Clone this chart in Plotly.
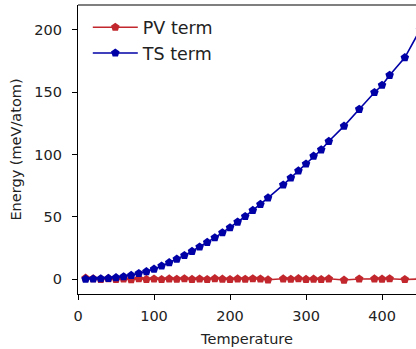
import plotly.graph_objects as go

temperature = [10, 20, 30, 40, 50, 60, 70, 80, 90, 100, 110, 120, 130, 140, 150, 160, 170,
               180, 190, 200, 210, 220, 230, 240, 250, 270, 280, 290, 300, 310, 320, 330,
               350, 370, 390, 400, 410, 430, 450]
ts_term = [0.0, 0.1, 0.3, 0.6, 1.2, 1.9, 3.0, 4.5, 6.0, 8.0, 10.5, 13.2, 16.0, 19.0, 22.3,
           25.8, 29.5, 33.2, 37.2, 41.2, 45.8, 50.3, 55.2, 60.0, 65.2, 75.6, 81.2, 86.9,
           92.4, 98.7, 103.8, 110.6, 122.8, 136.3, 149.8, 155.6, 163.6, 177.8, 200.0]
pv_term = [0.8, 0.3, -0.2, 0.4, -0.3, 0.2, -0.4, 0.3, -0.2, 0.1, -0.3, 0.2, -0.1, 0.3, -0.2,
           0.1, -0.3, 0.4, 0.0, -0.3, 0.2, -0.1, 0.3, 0.1, -0.6, 0.2, -0.1, 0.4, -0.2, 0.0,
           -0.3, 0.2, -0.8, 0.1, 0.2, 0.0, 0.3, -0.3, 0.0]

red = "#c1272d"
blue = "#0000a7"

fig = go.Figure()
fig.add_trace(go.Scatter(x=temperature, y=pv_term, mode="lines+markers", name="PV term",
                         line=dict(color=red, width=1.6),
                         marker=dict(symbol="pentagon", size=9, color=red)))
fig.add_trace(go.Scatter(x=temperature, y=ts_term, mode="lines+markers", name="TS term",
                         line=dict(color=blue, width=1.6),
                         marker=dict(symbol="pentagon", size=9, color=blue)))

font = "DejaVu Sans"
fig.update_layout(
    width=416, height=349,
    margin=dict(l=78, r=0, t=5, b=55),
    paper_bgcolor="white", plot_bgcolor="white",
    font=dict(family=font, size=14.5, color="#222"),
    showlegend=True,
    legend=dict(x=0.029, y=0.985, xanchor="left", yanchor="top",
                font=dict(family=font, size=17.5, color="#222"),
                itemwidth=45,
                bgcolor="rgba(0,0,0,0)"),
    xaxis=dict(range=[0, 444.7], tickvals=[0, 100, 200, 300, 400],
               showgrid=False, zeroline=False, showline=True, linecolor="black", linewidth=1.1,
               ticks="outside", ticklen=5, tickwidth=1.1, tickcolor="black",
               ticklabelstandoff=4,
               title=dict(text="Temperature", font=dict(size=14.5), standoff=10)),
    yaxis=dict(range=[-12, 220], tickvals=[0, 50, 100, 150, 200],
               showgrid=False, zeroline=False, showline=True, linecolor="black", linewidth=1.1,
               ticks="outside", ticklen=5, tickwidth=1.1, tickcolor="black",
               ticklabelstandoff=7,
               title=dict(text="Energy (meV/atom)", font=dict(size=14.5), standoff=9)),
)
fig.add_shape(type="line", xref="paper", yref="paper", x0=0, x1=1, y0=1, y1=1,
              line=dict(color="#555", width=1.5))

fig.write_html("out.html")
